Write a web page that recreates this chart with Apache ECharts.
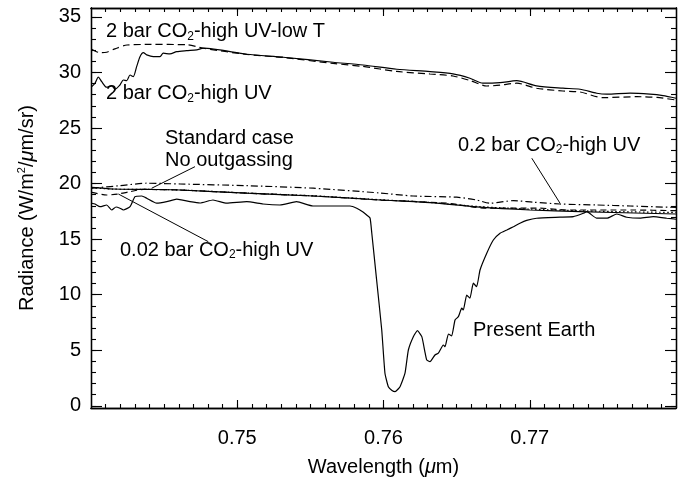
<!DOCTYPE html>
<html>
<head>
<meta charset="utf-8">
<script src="https://cdn.jsdelivr.net/npm/echarts@6/dist/echarts.min.js"></script>
<style>
  html, body { margin: 0; padding: 0; background: #fff; }
  #chart { width: 685px; height: 485px; }
</style>
</head>
<body>
<div id="chart"></div>
<script>
// Radiance spectra near the O2 A-band (wavelength in µm, radiance in W/m²/µm/sr)

const lowT2barWl  = [0.74005,0.74034,0.74062,0.74107,0.74164,0.74246,0.74403,0.74656,0.74768,0.75065,0.75313,0.75655,0.75860,0.76091,0.76318,0.76475,0.76591,0.76706,0.76797,0.76911,0.77047,0.77227,0.77344,0.77501,0.77733,0.77870,0.78000];
const lowT2barRad = [32.09,31.89,31.78,31.82,32.12,32.47,32.52,32.50,32.18,31.62,31.35,30.81,30.54,30.09,29.86,29.68,29.28,28.78,28.85,29.03,28.58,28.33,28.24,27.73,27.82,27.75,27.52];

const highUV2barWl  = [0.74005,0.74027,0.74050,0.74073,0.74107,0.74142,0.74164,0.74198,0.74221,0.74244,0.74267,0.74289,0.74312,0.74335,0.74358,0.74381,0.74426,0.74472,0.74494,0.74540,0.74586,0.74654,0.74723,0.74768,0.75065,0.75313,0.75655,0.75860,0.76091,0.76318,0.76475,0.76591,0.76680,0.76797,0.76911,0.77047,0.77227,0.77344,0.77458,0.77527,0.77686,0.77822,0.77911,0.78000];
const highUV2barRad = [28.72,29.03,29.57,29.17,28.67,28.78,28.49,28.87,29.32,29.26,29.77,29.62,30.52,31.42,31.78,31.58,31.42,31.42,31.73,31.67,31.87,31.96,32.03,32.18,31.64,31.37,30.92,30.67,30.29,30.07,29.87,29.48,29.03,29.08,29.26,28.79,28.58,28.49,28.13,28.04,28.13,28.04,27.91,27.68];

const co2p2Wl  = [0.74005,0.74198,0.74381,0.74609,0.75065,0.75520,0.75976,0.76202,0.76501,0.76637,0.76728,0.76888,0.77024,0.77207,0.77458,0.77686,0.78000];
const co2p2Rad = [19.58,19.81,20.03,19.96,19.81,19.58,19.15,18.88,18.77,18.52,18.23,18.46,18.32,18.16,18.07,17.98,17.85];

const standardWl  = [0.74005,0.74150,0.74403,0.74609,0.75065,0.75520,0.75976,0.76318,0.76660,0.77002,0.77344,0.78000];
const standardRad = [19.65,19.51,19.47,19.42,19.13,18.88,18.52,18.28,17.87,17.62,17.47,17.26];

const noOutgasWl  = [0.74005,0.74150,0.74403,0.74609,0.75065,0.75520,0.75976,0.76318,0.76660,0.77002,0.77344,0.77700,0.78000];
const noOutgasRad = [19.62,19.50,19.47,19.42,19.14,18.90,18.55,18.30,17.92,17.70,17.55,17.45,17.40];

const co2p02Wl  = [0.74005,0.74107,0.74185,0.74267,0.74356,0.74609,0.75065,0.75520,0.75976,0.76432,0.76706,0.77070,0.77253,0.77706,0.78000];
const co2p02Rad = [19.20,18.97,19.06,19.27,19.47,19.42,19.13,18.88,18.52,18.23,17.78,17.78,17.62,17.62,17.56];

const earthWl  = [0.74005,0.74027,0.74062,0.74107,0.74142,0.74171,0.74198,0.74221,0.74267,0.74301,0.74347,0.74381,0.74449,0.74518,0.74586,0.74677,0.74745,0.74834,0.74928,0.75065,0.75176,0.75292,0.75406,0.75518,0.75703,0.75771,0.75817,0.75860,0.75885,0.75908,0.75920,0.75953,0.75988,0.76010,0.76033,0.76058,0.76079,0.76113,0.76147,0.76170,0.76204,0.76232,0.76262,0.76285,0.76296,0.76318,0.76352,0.76375,0.76409,0.76421,0.76444,0.76466,0.76489,0.76512,0.76535,0.76546,0.76569,0.76591,0.76614,0.76637,0.76660,0.76706,0.76751,0.76797,0.76843,0.76888,0.76933,0.76979,0.77047,0.77207,0.77298,0.77367,0.77390,0.77458,0.77527,0.77595,0.77663,0.77754,0.77845,0.77937,0.78000];
const earthRad = [18.23,18.16,17.92,18.07,17.62,17.89,17.78,17.62,17.92,18.82,18.88,18.68,18.23,18.37,18.59,18.37,18.25,18.52,18.23,18.37,18.16,18.07,18.37,17.98,17.98,17.98,17.78,17.44,17.17,16.90,15.53,11.32,6.82,2.93,1.72,1.38,1.27,1.72,2.93,5.02,6.22,6.76,6.22,4.73,4.12,3.97,4.57,4.73,5.47,5.32,6.46,6.28,7.72,8.02,8.78,8.62,9.97,9.68,11.03,10.72,12.22,13.73,14.92,15.53,15.82,16.12,16.43,16.68,16.88,16.97,17.02,17.33,17.47,16.88,16.88,17.26,16.97,16.88,17.02,16.88,16.79];

// Tick labels
const xTickValues = [0.75, 0.76, 0.77];
const yTickValues = [0, 5, 10, 15, 20, 25, 30, 35];

// Curve annotations: [wavelength, radiance, text] (text anchored at its left edge)
const annoTexts = [
  [0.74103, 33.67, '2 bar CO{sub|2}-high UV-low T'],
  [0.74103, 28.13, '2 bar CO{sub|2}-high UV'],
  [0.74506, 24.08, 'Standard case'],
  [0.74506, 22.12, 'No outgassing'],
  [0.74198, 14.02, '0.02 bar CO{sub|2}-high UV'],
  [0.76509, 23.46, '0.2 bar CO{sub|2}-high UV'],
  [0.76612, 6.80, 'Present Earth']
];
// Leader lines: [wl0, rad0, wl1, rad1]
const annoLeaders = [
  [0.74711, 21.52, 0.74415, 19.58],
  [0.74802, 14.77, 0.74187, 19.06],
  [0.77014, 22.28, 0.77207, 18.23]
];

const X_MIN = 0.74, X_MAX = 0.78;
const Y_MIN = -0.2, Y_MAX = 35.8;
const FONT = "'Liberation Sans', Arial, Helvetica, sans-serif";
const FS = 20;

const xMinor = [];
for (let i = 1; i < 40; i++) xMinor.push(+(X_MIN + i * 0.001).toFixed(3));
const yMinor = [];
for (let i = 0; i <= 35; i++) yMinor.push(i);

const zip = (a, b) => a.map((v, i) => [v, b[i]]);

function xAxisDef(pos, ticks, len, withLabels) {
  return {
    type: 'value', min: X_MIN, max: X_MAX, position: pos,
    axisLine: { show: true, onZero: false, lineStyle: { color: '#000', width: 1.3 } },
    axisTick: { show: true, inside: true, length: len, customValues: ticks, lineStyle: { color: '#000', width: 1.1 } },
    axisLabel: withLabels ? {
      show: true, customValues: xTickValues, formatter: v => v.toFixed(2),
      color: '#000', fontFamily: FONT, fontSize: FS, margin: 20
    } : { show: false },
    splitLine: { show: false }
  };
}
function yAxisDef(pos, ticks, len, withLabels) {
  return {
    type: 'value', min: Y_MIN, max: Y_MAX, position: pos,
    axisLine: { show: true, onZero: false, lineStyle: { color: '#000', width: 1.3 } },
    axisTick: { show: true, inside: true, length: len, customValues: ticks, lineStyle: { color: '#000', width: 1.1 } },
    axisLabel: withLabels ? {
      show: true, customValues: yTickValues, formatter: v => String(Math.round(v)),
      color: '#000', fontFamily: FONT, fontSize: FS, margin: 10
    } : { show: false },
    splitLine: { show: false }
  };
}

const xAxes = [
  xAxisDef('bottom', xTickValues, 8, true),
  xAxisDef('bottom', xMinor, 4, false),
  xAxisDef('top', xTickValues, 8, false),
  xAxisDef('top', xMinor, 4, false)
];
xAxes[0].name = 'Wavelength ({mu|μ}m)';
xAxes[0].nameLocation = 'middle';
xAxes[0].nameGap = 49;
xAxes[0].nameTextStyle = {
  color: '#000', fontFamily: FONT, fontSize: FS,
  rich: { mu: { fontFamily: FONT, fontSize: FS, fontStyle: 'italic', color: '#000' } }
};

const yAxes = [
  yAxisDef('left', yTickValues, 11, true),
  yAxisDef('left', yMinor, 5, false),
  yAxisDef('right', yTickValues, 11, false),
  yAxisDef('right', yMinor, 5, false)
];
yAxes[0].name = 'Radiance (W/m{sup|2}/{mu|μ}m/sr)';
yAxes[0].nameLocation = 'middle';
yAxes[0].nameGap = 53;
yAxes[0].nameTextStyle = {
  color: '#000', fontFamily: FONT, fontSize: FS, lineHeight: 22,
  rich: {
    mu: { fontFamily: FONT, fontSize: FS, fontStyle: 'italic', color: '#000', lineHeight: 22 },
    sup: { fontFamily: FONT, fontSize: 11, color: '#000', verticalAlign: 'top', lineHeight: 22 }
  }
};

function curve(name, wl, rad, dash) {
  return {
    name, type: 'line', xAxisIndex: 0, yAxisIndex: 0,
    data: zip(wl, rad), showSymbol: false, symbol: 'none', smooth: 0.25,
    lineStyle: { color: '#000', width: 1.2, type: dash },
    silent: true, z: 3
  };
}

const chart = echarts.init(document.getElementById('chart'), null, { renderer: 'canvas' });
chart.setOption({
  animation: false,
  backgroundColor: '#fff',
  grid: { left: 91, right: 9, top: 8, bottom: 77, containLabel: false },
  xAxis: xAxes,
  yAxis: yAxes,
  series: [
    curve('2 bar CO2-high UV-low T', lowT2barWl, lowT2barRad, [7, 4]),
    curve('2 bar CO2-high UV', highUV2barWl, highUV2barRad, 'solid'),
    curve('0.2 bar CO2-high UV', co2p2Wl, co2p2Rad, [7, 3, 1.5, 3]),
    curve('Standard case', standardWl, standardRad, 'solid'),
    curve('No outgassing', noOutgasWl, noOutgasRad, [1.5, 2.5]),
    curve('0.02 bar CO2-high UV', co2p02Wl, co2p02Rad, [6, 4]),
    Object.assign(curve('Present Earth', earthWl, earthRad, 'solid'), { smooth: 0.15 }),
    {
      name: 'annotations', type: 'scatter', xAxisIndex: 0, yAxisIndex: 0,
      symbolSize: 0, silent: true, z: 5,
      data: annoTexts.map(a => ({ value: [a[0], a[1]], text: a[2] })),
      label: {
        show: true, position: [0, 0], align: 'left', verticalAlign: 'middle',
        formatter: p => p.data.text, opacity: 1,
        color: '#000', fontFamily: FONT, fontSize: FS, lineHeight: 22,
        rich: { sub: { fontFamily: FONT, fontSize: 12, color: '#000', verticalAlign: 'bottom', lineHeight: 22 } }
      },
      markLine: {
        silent: true, symbol: ['none', 'none'], animation: false,
        lineStyle: { color: '#000', type: 'solid', width: 1 },
        label: { show: false },
        data: annoLeaders.map(l => [{ coord: [l[0], l[1]] }, { coord: [l[2], l[3]] }])
      }
    }
  ]
});
</script>
</body>
</html>
